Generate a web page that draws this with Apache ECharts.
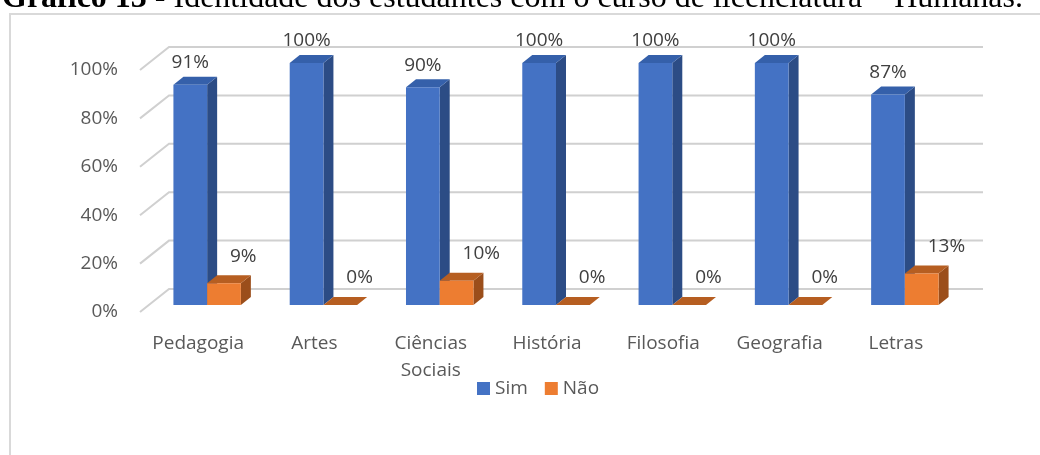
<!DOCTYPE html>
<html>
<head>
<meta charset="utf-8">
<script src="https://cdn.jsdelivr.net/npm/echarts@6/dist/echarts.min.js"></script>
<style>
  html, body { margin: 0; padding: 0; background: #fff; }
  #chart { width: 1040px; height: 455px; }
</style>
</head>
<body>
<div id="chart"></div>
<script>
const categories = ['Pedagogia', 'Artes', 'Ciências\nSociais', 'História', 'Filosofia', 'Geografia', 'Letras']
const simValues = [91, 100, 90, 100, 100, 100, 87]
const naoValues = [9, 0, 10, 0, 0, 0, 13]
const yTicks = [0, 20, 40, 60, 80, 100]

// fake 3d: offsets of the front / back planes from the bar plane, and bar depth
const FRONT = [-9, 7]
const BACK = [20, -16]
const DEPTH = [10, -8]
const labelFont = '19px "Open Sans"'

const blue = { front: '#4472C4', side: '#2C4C85', top: '#3560AA' }
const orange = { front: '#ED7D31', side: '#9B4E1B', top: '#B65E21' }

const bar3d = (faces, left) => (params, api) => {
  const idx = api.value(0)
  const val = api.value(1)
  const base = api.coord([idx, 0])
  const top = api.coord([idx, val])
  const bw = api.size([1, 0])[0] * 0.29
  const x0 = left ? base[0] - bw : base[0]
  const x1 = x0 + bw
  const yb = base[1]
  const yt = top[1]
  const [dx, dy] = DEPTH
  const label = left
    ? { x: x0 + bw / 2, y: yt - 22, align: 'center' }
    : { x: x0 + bw / 2 + 6, y: yt - 27, align: 'left' }
  return {
    type: 'group',
    children: [
      { type: 'polygon', shape: { points: [[x1, yb], [x1 + dx, yb + dy], [x1 + dx, yt + dy], [x1, yt]] }, style: { fill: faces.side } },
      { type: 'polygon', shape: { points: [[x0, yt], [x1, yt], [x1 + dx, yt + dy], [x0 + dx, yt + dy]] }, style: { fill: faces.top } },
      { type: 'rect', shape: { x: x0, y: yt, width: bw, height: yb - yt }, style: { fill: faces.front } },
      {
        type: 'text',
        x: label.x,
        y: label.y,
        style: { text: val + '%', font: labelFont, fill: '#404040', align: label.align, verticalAlign: 'middle' },
      },
    ],
  }
}

const gridLines = (params, api) => {
  const cs = params.coordSys
  const y = api.coord([0, api.value(0)])[1]
  return {
    type: 'polyline',
    shape: {
      points: [
        [cs.x + FRONT[0], y + FRONT[1]],
        [cs.x + BACK[0], y + BACK[1]],
        [cs.x + cs.width + BACK[0], y + BACK[1]],
      ],
    },
    style: { stroke: '#D0D0D0', lineWidth: 2, fill: null },
  }
}

const chart = echarts.init(document.getElementById('chart'))
chart.setOption({
  animation: false,
  title: {
    text: '{b|Gráfico 13} - Identidade dos estudantes com o curso de licenciatura – Humanas.',
    left: 2,
    top: -17,
    padding: 0,
    textStyle: {
      fontFamily: 'Liberation Serif',
      fontSize: 32,
      fontWeight: 'normal',
      color: '#000',
      rich: { b: { fontFamily: 'Liberation Serif', fontSize: 32, fontWeight: 'bold', color: '#000' } },
    },
  },
  graphic: [
    {
      type: 'rect',
      shape: { x: 10, y: 14, width: 1100, height: 500 },
      style: { fill: null, stroke: '#D9D9D9', lineWidth: 2 },
      silent: true,
    },
  ],
  legend: {
    data: ['Sim', 'Não'],
    left: 477,
    top: 379,
    padding: 0,
    icon: 'rect',
    itemWidth: 13,
    itemHeight: 13,
    itemGap: 17,
    textStyle: { fontFamily: 'Open Sans', fontSize: 19, color: '#595959' },
  },
  grid: [
    // bar plane
    { left: 149, right: 77, top: 63, bottom: 150 },
    // front plane, carries the axis labels
    { left: 149 + FRONT[0], right: 77 - FRONT[0], top: 63 + FRONT[1], bottom: 150 - FRONT[1] },
  ],
  xAxis: [
    { gridIndex: 0, type: 'category', data: categories, show: false },
    {
      gridIndex: 1,
      type: 'category',
      data: categories,
      axisLine: { show: false },
      axisTick: { show: false },
      axisLabel: { interval: 0, margin: 18, fontFamily: 'Open Sans', fontSize: 19, color: '#595959', lineHeight: 27 },
    },
  ],
  yAxis: [
    { gridIndex: 0, type: 'value', min: 0, max: 100, interval: 20, show: false },
    {
      gridIndex: 1,
      type: 'value',
      min: 0,
      max: 100,
      interval: 20,
      axisLine: { show: false },
      axisTick: { show: false },
      splitLine: { show: false },
      axisLabel: { margin: 22, formatter: '{value}%', fontFamily: 'Open Sans', fontSize: 19, color: '#595959' },
    },
  ],
  series: [
    {
      type: 'custom',
      name: 'grid',
      xAxisIndex: 0,
      yAxisIndex: 0,
      silent: true,
      renderItem: gridLines,
      data: yTicks.map((v) => [v]),
      encode: { y: 0 },
    },
    {
      type: 'custom',
      name: 'Sim',
      xAxisIndex: 0,
      yAxisIndex: 0,
      itemStyle: { color: blue.front },
      renderItem: bar3d(blue, true),
      data: simValues.map((v, i) => [i, v]),
      encode: { x: 0, y: 1 },
    },
    {
      type: 'custom',
      name: 'Não',
      xAxisIndex: 0,
      yAxisIndex: 0,
      itemStyle: { color: orange.front },
      renderItem: bar3d(orange, false),
      data: naoValues.map((v, i) => [i, v]),
      encode: { x: 0, y: 1 },
    },
  ],
})
</script>
</body>
</html>
